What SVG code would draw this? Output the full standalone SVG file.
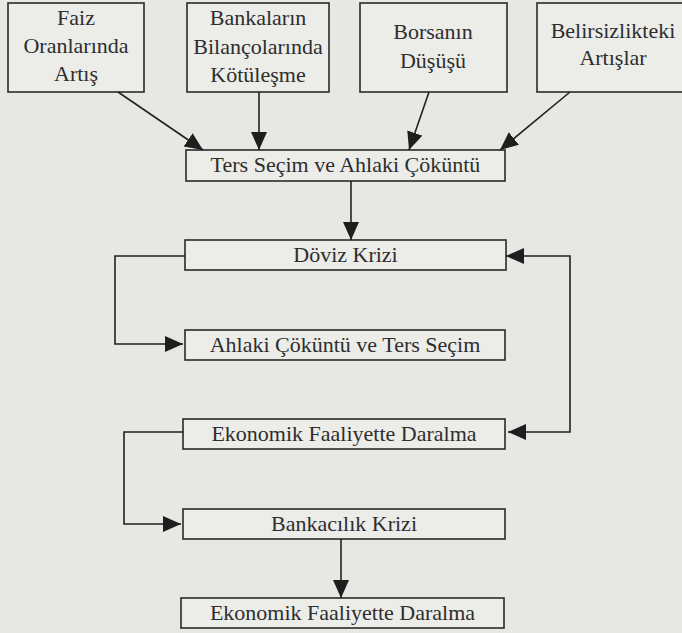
<svg xmlns="http://www.w3.org/2000/svg" width="682" height="633" viewBox="0 0 682 633">
<defs>
<marker id="ah" markerUnits="userSpaceOnUse" markerWidth="20" markerHeight="18" refX="18" refY="8" orient="auto">
<path d="M0,0 L18,8 L0,16 Z" fill="#1e1e1e"/>
</marker>
</defs>
<style>
.box{fill:#ecece9;stroke:#2a2a2a;stroke-width:1.6}
.t{font-family:"Liberation Serif","Times New Roman",serif;font-size:22px;fill:#2e2e2e;text-anchor:middle}
.c{fill:none;stroke:#222;stroke-width:1.6}
</style>
<rect width="682" height="633" fill="#e7e7e4"/>
<g id="n1"><rect class="box" x="8" y="3" width="136" height="89"/>
<text class="t" x="76" y="25">Faiz</text><text class="t" x="76" y="53">Oranlarında</text><text class="t" x="76" y="81">Artış</text></g>
<g id="n2"><rect class="box" x="187" y="3" width="142" height="89"/>
<text class="t" x="258" y="25">Bankaların</text><text class="t" x="258" y="54">Bilançolarında</text><text class="t" x="258" y="82">Kötüleşme</text></g>
<g id="n3"><rect class="box" x="360" y="3" width="147" height="89"/>
<text class="t" x="433" y="39">Borsanın</text><text class="t" x="433" y="68">Düşüşü</text></g>
<g id="n4"><rect class="box" x="537" y="3" width="152" height="89"/>
<text class="t" x="613" y="38">Belirsizlikteki</text><text class="t" x="613" y="65">Artışlar</text></g>
<g id="n5"><rect class="box" x="186" y="150" width="319" height="31"/>
<text class="t" x="345.5" y="172">Ters Seçim ve Ahlaki Çöküntü</text></g>
<g id="n6"><rect class="box" x="185" y="240" width="321" height="30"/>
<text class="t" x="345.5" y="262">Döviz Krizi</text></g>
<g id="n7"><rect class="box" x="185" y="330" width="320" height="30"/>
<text class="t" x="345" y="352">Ahlaki Çöküntü ve Ters Seçim</text></g>
<g id="n8"><rect class="box" x="183" y="419" width="322" height="30"/>
<text class="t" x="344" y="441">Ekonomik Faaliyette Daralma</text></g>
<g id="n9"><rect class="box" x="183" y="509" width="322" height="30"/>
<text class="t" x="344" y="531">Bankacılık Krizi</text></g>
<g id="n10"><rect class="box" x="181" y="598" width="323" height="30"/>
<text class="t" x="342.5" y="620">Ekonomik Faaliyette Daralma</text></g>
<g id="connectors">
<path class="c" d="M118,92 L203,150" marker-end="url(#ah)"/>
<path class="c" d="M259,92 L259,150" marker-end="url(#ah)"/>
<path class="c" d="M429,92 L409,150" marker-end="url(#ah)"/>
<path class="c" d="M570,92 L500,150" marker-end="url(#ah)"/>
<path class="c" d="M351,181 L351,240" marker-end="url(#ah)"/>
<path class="c" d="M185,256 L115,256 L115,344 L183,344" marker-end="url(#ah)"/>
<path class="c" d="M570,344 L570,256 L506,256" marker-end="url(#ah)"/>
<path class="c" d="M570,344 L570,432 L508,432" marker-end="url(#ah)"/>
<path class="c" d="M183,432 L124,432 L124,524 L181,524" marker-end="url(#ah)"/>
<path class="c" d="M341,539 L341,598" marker-end="url(#ah)"/>
</g>
</svg>
